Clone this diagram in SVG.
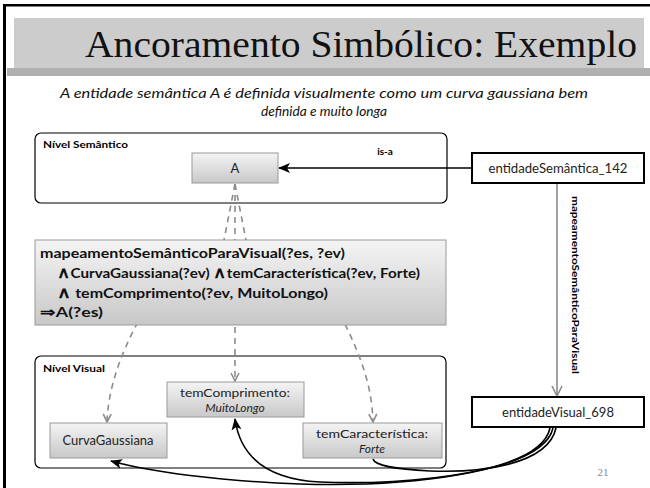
<svg xmlns="http://www.w3.org/2000/svg" width="650" height="488" viewBox="0 0 650 488">
<defs>
<linearGradient id="g" x1="0" y1="0" x2="0" y2="1">
<stop offset="0" stop-color="#f4f4f4"/>
<stop offset="1" stop-color="#c8c8c8"/>
</linearGradient>
<marker id="open" markerUnits="userSpaceOnUse" markerWidth="10" markerHeight="10" viewBox="0 0 10 10" refX="9" refY="5" orient="auto">
<path d="M1,1 L9,5 L1,9" fill="none" stroke="#8c8c8c" stroke-width="1.6"/>
</marker>
<marker id="black" markerUnits="userSpaceOnUse" markerWidth="12" markerHeight="12" viewBox="0 0 12 12" refX="11" refY="6" orient="auto">
<path d="M0,1 L12,6 L0,11 L3,6 Z" fill="#000"/>
</marker>
<marker id="gray" markerUnits="userSpaceOnUse" markerWidth="12" markerHeight="12" viewBox="0 0 12 12" refX="11" refY="6" orient="auto">
<path d="M1,1 L11,6 L1,11" fill="none" stroke="#8c8c8c" stroke-width="1.6"/>
</marker>
</defs>
<style>
.lvl{fill:#fff;stroke:#000;stroke-width:1.2}
.node{fill:url(#g);stroke:#9a9a9a;stroke-width:1}
.inst{fill:#fff;stroke:#000;stroke-width:2}
.t{font-family:Lato,"Open Sans","Liberation Sans",sans-serif;font-size:13px;fill:#222}
.t2{font-family:Lato,"Open Sans","Liberation Sans",sans-serif;font-size:12px;fill:#222}
.b{font-family:Lato,"Open Sans","Liberation Sans",sans-serif;font-weight:bold;fill:#000}
.rule{font-family:Lato,"Open Sans","Liberation Sans",sans-serif;font-weight:bold;font-size:13.5px;fill:#111}
.dash{fill:none;stroke:#8c8c8c;stroke-width:1.6;stroke-dasharray:6,5}
.blk{fill:none;stroke:#000;stroke-width:1.6}
</style>
<!-- slide frame -->
<rect x="0" y="0" width="650" height="488" fill="#fff"/>
<rect x="3" y="4" width="647" height="2.5" fill="#000"/>
<rect x="3" y="4" width="3" height="484" fill="#000"/>
<rect x="14" y="18" width="630" height="50" fill="#cccccc"/>
<rect x="7" y="68" width="643" height="8" fill="#b0b0b0"/>
<text x="85" y="57" font-family="Liberation Serif,serif" font-size="38" textLength="552" lengthAdjust="spacingAndGlyphs" fill="#111">Ancoramento Simbólico: Exemplo</text>
<text x="324" y="98" text-anchor="middle" font-family="Lato,Open Sans,Liberation Sans,sans-serif" font-style="italic" font-size="13.5" textLength="528" lengthAdjust="spacingAndGlyphs" fill="#111">A entidade semântica A é definida visualmente como um curva gaussiana bem</text>
<text x="324" y="116" text-anchor="middle" font-family="Lato,Open Sans,Liberation Sans,sans-serif" font-style="italic" font-size="13.5" textLength="126" lengthAdjust="spacingAndGlyphs" fill="#111">definida e muito longa</text>

<g id="nivel-semantico">
<rect class="lvl" x="35" y="133" width="412" height="70" rx="6"/>
<text class="b" x="43" y="148" font-size="10" textLength="85" lengthAdjust="spacingAndGlyphs">Nível Semântico</text>
</g>
<g id="nivel-visual">
<rect class="lvl" x="35" y="356" width="411" height="112" rx="6"/>
<text class="b" x="43" y="372" font-size="10" textLength="62" lengthAdjust="spacingAndGlyphs">Nível Visual</text>
</g>

<g id="connectors">
<path class="dash" d="M235,184 L224,240 L138,322 C 120,355 108,390 107,422" marker-end="url(#open)"/>
<path class="dash" d="M235,184 L235,381" marker-end="url(#open)"/>
<path class="dash" d="M235,184 L246,240 L345,324 C 360,355 372,385 373,422" marker-end="url(#open)"/>
<line x1="472" y1="168" x2="279" y2="168" stroke="#000" stroke-width="1.6" marker-end="url(#black)"/>
<text class="b" x="385" y="155" font-size="10" text-anchor="middle">is-a</text>
<line x1="557" y1="184" x2="557" y2="396" stroke="#8c8c8c" stroke-width="1.6" marker-end="url(#gray)"/>
<text class="b" font-size="10" transform="translate(572,196) rotate(90)" textLength="178" lengthAdjust="spacingAndGlyphs">mapeamentoSemânticoParaVisual</text>
<path class="blk" d="M550,428 C 540,475 400,487 300,484 C 220,481 150,472 111,461" marker-end="url(#black)"/>
<path class="blk" d="M553,428 C 543,472 410,486 320,482 C 265,479 240,455 235,419" marker-end="url(#black)"/>
<path class="blk" d="M556,428 C 548,465 480,473 430,471 C 395,469 375,466 373,459"/>
</g>

<g id="rule">
<rect class="node" x="35" y="240" width="411" height="85"/>
<text class="rule" x="40" y="258" textLength="305" lengthAdjust="spacingAndGlyphs">mapeamentoSemânticoParaVisual(?es, ?ev)</text>
<text class="rule" x="57" y="278" textLength="363" lengthAdjust="spacingAndGlyphs"><tspan font-size="16">∧</tspan>CurvaGaussiana(?ev) <tspan font-size="16">∧</tspan>temCaracterística(?ev, Forte)</text>
<text class="rule" x="57" y="298" textLength="271" lengthAdjust="spacingAndGlyphs"><tspan font-size="16">∧</tspan> temComprimento(?ev, MuitoLongo)</text>
<text class="rule" x="40" y="317" textLength="63" lengthAdjust="spacingAndGlyphs">⇒A(?es)</text>
</g>

<g id="A">
<rect class="node" x="192" y="153" width="86" height="30"/>
<text class="t" x="235" y="173" text-anchor="middle">A</text>
</g>
<g id="entidadeSemantica_142">
<rect class="inst" x="472" y="153" width="172" height="30"/>
<text class="t" x="558" y="173" text-anchor="middle" textLength="139" lengthAdjust="spacingAndGlyphs">entidadeSemântica_142</text>
</g>
<g id="entidadeVisual_698">
<rect class="inst" x="472" y="397" width="172" height="30"/>
<text class="t" x="558" y="417" text-anchor="middle">entidadeVisual_698</text>
</g>
<g id="CurvaGaussiana">
<rect class="node" x="50" y="423" width="117" height="35"/>
<text class="t" x="108" y="445" text-anchor="middle">CurvaGaussiana</text>
</g>
<g id="temComprimento">
<rect class="node" x="167" y="382" width="137" height="35"/>
<text class="t2" x="235" y="397" text-anchor="middle" textLength="110" lengthAdjust="spacingAndGlyphs">temComprimento:</text>
<text class="t2" x="235" y="412" text-anchor="middle" font-style="italic">MuitoLongo</text>
</g>
<g id="temCaracteristica">
<rect class="node" x="303" y="423" width="139" height="35"/>
<text class="t2" x="372" y="438" text-anchor="middle" textLength="112" lengthAdjust="spacingAndGlyphs">temCaracterística:</text>
<text class="t2" x="372" y="453" text-anchor="middle" font-style="italic">Forte</text>
</g>
<text x="603" y="476" text-anchor="middle" font-family="Liberation Serif,serif" font-size="11" fill="#888">21</text>
</svg>
